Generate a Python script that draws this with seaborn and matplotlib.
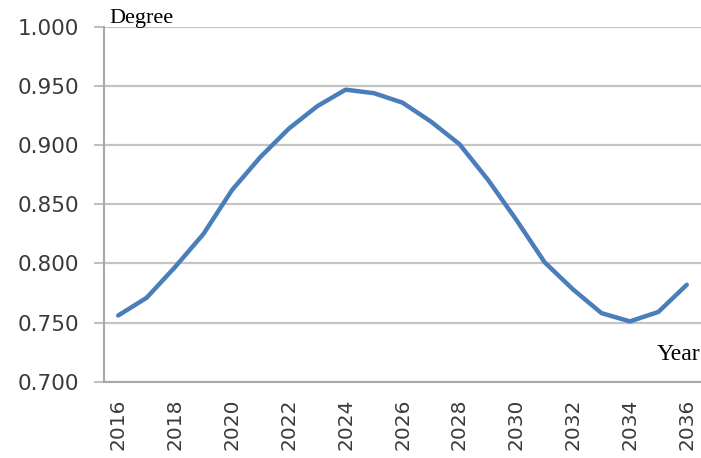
import matplotlib
matplotlib.use("Agg")
import matplotlib.pyplot as plt
import seaborn as sns
import pandas as pd
import numpy as np

years = list(range(2016, 2037))
degree = [0.756, 0.771, 0.797, 0.825, 0.862, 0.890, 0.914, 0.933, 0.947,
          0.944, 0.936, 0.920, 0.901, 0.871, 0.837, 0.801, 0.778, 0.758,
          0.751, 0.759, 0.782]
y_ticks = [0.700, 0.750, 0.800, 0.850, 0.900, 0.950, 1.000]
x_label_years = list(range(2016, 2037, 2))

df = pd.DataFrame({"Year": years, "Degree": degree})

sns.set_style("white")
plt.rcParams['font.family'] = ['DejaVu Sans']

fig = plt.figure(figsize=(7.01, 4.58), dpi=100)
ax = fig.add_axes([104/701, 1 - 381.7/458, 1 - 104/701, (381.7 - 27)/458])

sns.lineplot(data=df, x="Year", y="Degree", ax=ax, color="#4a7ebb", linewidth=3.2)

ax.set_xlim(2015.5, 2036.5)
ax.set_ylim(0.700, 1.000)
ax.set_yticks(y_ticks)
ax.set_yticklabels([f"{v:.3f}" for v in y_ticks], fontsize=15.5, color="#3a3a3a")
ax.set_xticks(x_label_years)
ax.set_xticklabels([str(y) for y in x_label_years], rotation=90, fontsize=14.5, color="#3a3a3a")
ax.set_xticks([y - 0.5 for y in x_label_years], minor=True)
ax.tick_params(axis="x", which="major", length=0, pad=12)
ax.tick_params(axis="x", which="minor", length=5, width=1.5, color="#a0a0a0", direction="out")
ax.tick_params(axis="y", which="major", length=7, width=1.5, color="#c0c0c0", pad=11, direction="out", left=True)

ax.grid(axis="y", color="#c4c4c4", linewidth=1.6)
ax.grid(axis="x", visible=False)
ax.set_axisbelow(True)

for s in ["top", "right"]:
    ax.spines[s].set_visible(False)
ax.spines["left"].set_color("#a8a8a8")
ax.spines["left"].set_linewidth(1.5)
ax.spines["bottom"].set_color("#a8a8a8")
ax.spines["bottom"].set_linewidth(1.5)

ax.set_xlabel("")
ax.set_ylabel("")

fig.text(109/701, 1 - 18/458, "Degree", family="Liberation Serif", fontsize=16,
         color="black", ha="left", va="center")
fig.text(700/701, 1 - 354/458, "Year", family="Liberation Serif", fontsize=17,
         color="black", ha="right", va="center")

fig.savefig("out.png", dpi=100)
